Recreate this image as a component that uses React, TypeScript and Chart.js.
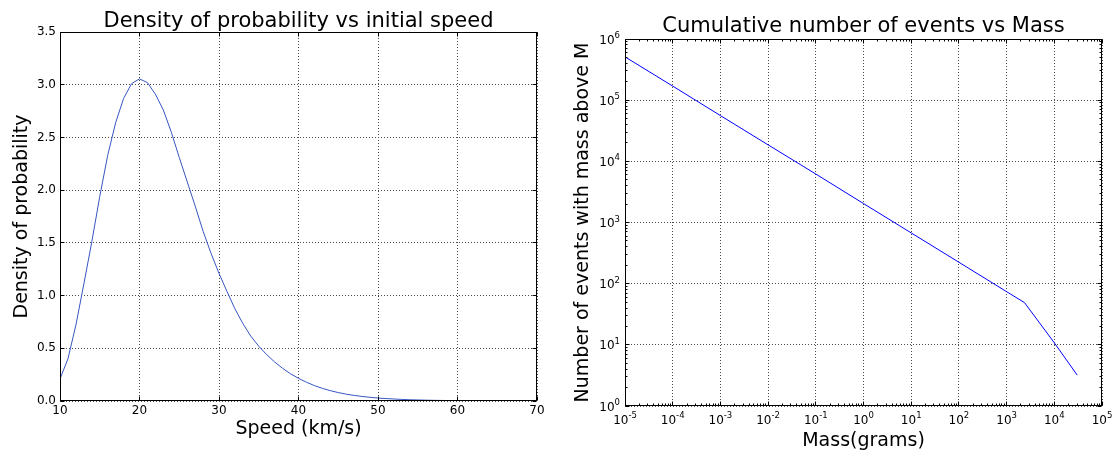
import React, { useEffect, useRef } from 'react';
import { Chart, registerables } from 'chart.js';

Chart.register(...registerables);

const FONT = 'DejaVu Sans';

// ---- Left chart data: density of probability vs initial speed ----
const speeds = [
  10, 11, 12, 13, 14, 15, 16, 17, 18, 19,
  20, 21, 22, 23, 24, 25, 26, 27, 28, 29,
  30, 31, 32, 33, 34, 35, 36, 37, 38, 39,
  40, 41, 42, 43, 44, 45, 46, 47, 48, 49,
  50, 51, 52, 53, 54, 55, 56, 57, 58, 59,
  60, 61, 62, 63, 64, 65, 66, 67, 68, 69, 70,
];
const density = [
  0.21, 0.4, 0.72, 1.11, 1.51, 1.94, 2.33, 2.64, 2.87, 3.01,
  3.055, 3.02, 2.91, 2.76, 2.55, 2.31, 2.08, 1.85, 1.61, 1.4,
  1.21, 1.04, 0.875, 0.735, 0.615, 0.52, 0.44, 0.37, 0.31, 0.258,
  0.215, 0.178, 0.146, 0.12, 0.098, 0.08, 0.065, 0.053, 0.043, 0.035,
  0.028, 0.023, 0.019, 0.015, 0.012, 0.01, 0.008, 0.0065, 0.0053, 0.0043,
  0.0035, 0.0028, 0.0023, 0.0019, 0.0015, 0.0012, 0.001, 0.0008, 0.0006, 0.0005, 0.0004,
];
const speedTickLabels = ['10', '20', '30', '40', '50', '60', '70'];
const densityTickLabels = ['0.0', '0.5', '1.0', '1.5', '2.0', '2.5', '3.0', '3.5'];

// ---- Right chart data: cumulative number of events vs mass ----
const masses = [1e-5, 1e-4, 1e-3, 1e-2, 1e-1, 1, 10, 100, 1000, 2370, 10000, 30200];
const eventCounts = [510000, 170000, 56000, 18600, 6200, 2040, 676, 224, 74, 49, 10.8, 3.2];
// tick labels are "10" raised to these exponents
const massTickExponents = ['-5', '-4', '-3', '-2', '-1', '0', '1', '2', '3', '4', '5'];
const eventTickExponents = ['0', '1', '2', '3', '4', '5', '6'];

const align = (p: number) => Math.round(p - 0.5) + 0.5;

// Draw "10^e" with a real superscript
function drawPower(ctx: any, exp: string, x: number, baseline: number, mode: 'center' | 'right') {
  const baseFont = `12px "${FONT}"`;
  const supFont = `8.5px "${FONT}"`;
  ctx.font = baseFont;
  const wb = ctx.measureText('10').width;
  ctx.font = supFont;
  const we = ctx.measureText(exp).width;
  const total = wb + we;
  const start = mode === 'center' ? x - total / 2 : x - total;
  ctx.textAlign = 'left';
  ctx.textBaseline = 'alphabetic';
  ctx.fillStyle = '#000';
  ctx.font = baseFont;
  ctx.fillText('10', start, baseline);
  ctx.font = supFont;
  ctx.fillText(exp, start + wb, baseline - 5.5);
}

// Frame on all four sides plus inward tick marks (matplotlib classic look)
const frameTicks = {
  id: 'frameTicks',
  afterDraw(chart: any, _args: any, opts: any) {
    const { ctx, chartArea: a, scales } = chart;
    const xs = scales.x;
    const ys = scales.y;
    const L = Math.round(a.left) + 0.5;
    const R = Math.round(a.right) - 0.5;
    const T = Math.round(a.top) + 0.5;
    const B = Math.round(a.bottom) - 0.5;
    const major = opts.major ?? 4;
    const minor = opts.minor ?? 2;
    ctx.save();
    ctx.strokeStyle = '#000';
    ctx.lineWidth = 1;
    ctx.setLineDash([]);
    ctx.beginPath();
    const tickX = (v: number, len: number) => {
      const p = align(xs.getPixelForValue(v));
      ctx.moveTo(p, B);
      ctx.lineTo(p, B - len);
      ctx.moveTo(p, T);
      ctx.lineTo(p, T + len);
    };
    const tickY = (v: number, len: number) => {
      const p = align(ys.getPixelForValue(v));
      ctx.moveTo(L, p);
      ctx.lineTo(L + len, p);
      ctx.moveTo(R, p);
      ctx.lineTo(R - len, p);
    };
    xs.ticks.forEach((t: any) => tickX(t.value, major));
    ys.ticks.forEach((t: any) => tickY(t.value, major));
    const logMinor = (scale: any, fn: (v: number, len: number) => void) => {
      const lo = Math.floor(Math.log10(scale.min));
      const hi = Math.ceil(Math.log10(scale.max));
      for (let e = lo; e <= hi; e++) {
        for (let k = 2; k <= 9; k++) {
          const v = k * Math.pow(10, e);
          if (v > scale.min && v < scale.max) fn(v, minor);
        }
      }
    };
    if (opts.logX) logMinor(xs, tickX);
    if (opts.logY) logMinor(ys, tickY);
    ctx.stroke();
    ctx.strokeRect(L, T, R - L, B - T);

    // superscript tick labels for log axes
    if (opts.xPowers) {
      opts.xPowers.forEach((e: string) => {
        const px = xs.getPixelForValue(Math.pow(10, Number(e)));
        drawPower(ctx, e, px, a.bottom + 17.5, 'center');
      });
    }
    if (opts.yPowers) {
      opts.yPowers.forEach((e: string) => {
        const py = ys.getPixelForValue(Math.pow(10, Number(e)));
        drawPower(ctx, e, a.left - 5, py + 4.5, 'right');
      });
    }
    ctx.restore();
  },
};

const gridStyle = { color: '#4a4a4a', lineWidth: 1, drawTicks: false };
const borderStyle = { display: false, dash: [1, 2] };
const tickFont = { family: FONT, size: 12 };
const titleFont = { family: FONT, size: 21, weight: 'normal', lineHeight: 1 };
const axisTitleFont = { family: FONT, size: 19, lineHeight: 1 };

function leftConfig(): any {
  return {
    type: 'line',
    data: {
      datasets: [
        {
          data: speeds.map((s, i) => ({ x: s, y: density[i] })),
          borderColor: '#3656c2',
          borderWidth: 1,
          pointRadius: 0,
          tension: 0,
          fill: false,
        },
      ],
    },
    plugins: [frameTicks],
    options: {
      responsive: false,
      animation: false,
      events: [],
      layout: { padding: { left: 0, right: 23, top: 0, bottom: 0 } },
      plugins: {
        legend: { display: false },
        tooltip: { enabled: false },
        title: {
          display: true,
          text: 'Density of probability vs initial speed',
          color: '#000',
          fullSize: false,
          font: titleFont,
          padding: { top: 10.8, bottom: 0.2 },
        },
        frameTicks: { major: 4, minor: 2 },
      },
      scales: {
        x: {
          type: 'linear',
          min: 10,
          max: 70,
          afterBuildTicks: (s: any) => {
            s.ticks = speedTickLabels.map((l) => ({ value: Number(l) }));
          },
          afterFit: (s: any) => {
            s.height = 54;
          },
          ticks: {
            callback: (_v: any, i: number) => speedTickLabels[i],
            color: '#000',
            font: tickFont,
            padding: 2.6,
            maxRotation: 0,
            autoSkip: false,
          },
          grid: gridStyle,
          border: borderStyle,
          title: {
            display: true,
            text: 'Speed (km/s)',
            color: '#000',
            font: axisTitleFont,
            padding: { top: 0, bottom: 16.4 },
          },
        },
        y: {
          type: 'linear',
          min: 0,
          max: 3.5,
          afterBuildTicks: (s: any) => {
            s.ticks = densityTickLabels.map((l) => ({ value: Number(l) }));
          },
          afterFit: (s: any) => {
            s.width = 60;
          },
          ticks: {
            callback: (_v: any, i: number) => densityTickLabels[i],
            color: '#000',
            font: tickFont,
            padding: 4,
            autoSkip: false,
          },
          grid: gridStyle,
          border: borderStyle,
          title: {
            display: true,
            text: 'Density of probability',
            color: '#000',
            font: axisTitleFont,
            padding: { top: 12.2, bottom: 0 },
          },
        },
      },
    },
  };
}

function rightConfig(): any {
  return {
    type: 'line',
    data: {
      datasets: [
        {
          data: masses.map((m, i) => ({ x: m, y: eventCounts[i] })),
          borderColor: '#0000ff',
          borderWidth: 1,
          pointRadius: 0,
          tension: 0,
          fill: false,
        },
      ],
    },
    plugins: [frameTicks],
    options: {
      responsive: false,
      animation: false,
      events: [],
      layout: { padding: { left: 0, right: 18, top: 0, bottom: 0 } },
      plugins: {
        legend: { display: false },
        tooltip: { enabled: false },
        title: {
          display: true,
          text: 'Cumulative number of events vs Mass',
          color: '#000',
          fullSize: false,
          font: titleFont,
          padding: { top: 16.2, bottom: 1.8 },
        },
        frameTicks: {
          major: 4,
          minor: 2,
          logX: true,
          logY: true,
          xPowers: massTickExponents,
          yPowers: eventTickExponents,
        },
      },
      scales: {
        x: {
          type: 'logarithmic',
          min: 1e-5,
          max: 1e5,
          afterBuildTicks: (s: any) => {
            s.ticks = massTickExponents.map((e) => ({ value: Math.pow(10, Number(e)) }));
          },
          afterFit: (s: any) => {
            s.height = 49;
          },
          ticks: { display: false, autoSkip: false, maxRotation: 0 },
          grid: gridStyle,
          border: borderStyle,
          title: {
            display: true,
            text: 'Mass(grams)',
            color: '#000',
            font: axisTitleFont,
            padding: { top: 0, bottom: 4.5 },
          },
        },
        y: {
          type: 'logarithmic',
          min: 1,
          max: 1e6,
          afterBuildTicks: (s: any) => {
            s.ticks = eventTickExponents.map((e) => ({ value: Math.pow(10, Number(e)) }));
          },
          afterFit: (s: any) => {
            s.width = 65;
          },
          ticks: { display: false, autoSkip: false },
          grid: gridStyle,
          border: borderStyle,
          title: {
            display: true,
            text: 'Number of events with mass above M',
            color: '#000',
            font: axisTitleFont,
            padding: { top: 13.9, bottom: 0 },
          },
        },
      },
    },
  };
}

function ChartBox({ left, makeConfig }: { left: number; makeConfig: () => any }) {
  const ref = useRef<HTMLCanvasElement>(null);
  useEffect(() => {
    const chart = new Chart(ref.current as HTMLCanvasElement, makeConfig());
    return () => chart.destroy();
  }, []);
  return (
    <div style={{ position: 'absolute', left, top: 0, width: 560, height: 455 }}>
      <canvas ref={ref} width={560} height={455} style={{ display: 'block', width: 560, height: 455 }} />
    </div>
  );
}

export default function App() {
  return (
    <div
      style={{
        position: 'fixed',
        left: 0,
        top: 0,
        width: 1120,
        height: 455,
        background: '#fff',
        overflow: 'hidden',
      }}
    >
      <ChartBox left={0} makeConfig={leftConfig} />
      <ChartBox left={560} makeConfig={rightConfig} />
    </div>
  );
}
